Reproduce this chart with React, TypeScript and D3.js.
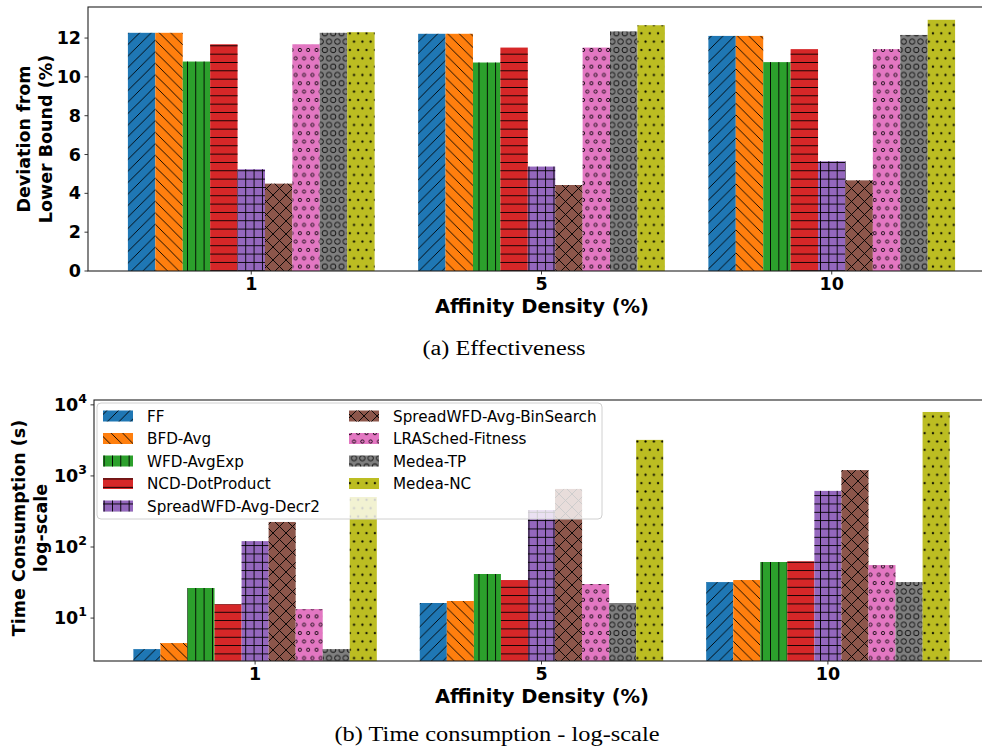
import React from 'react';
import * as d3 from 'd3';

const categories = ['1', '5', '10'];
const methods = [
  'FF',
  'BFD-Avg',
  'WFD-AvgExp',
  'NCD-DotProduct',
  'SpreadWFD-Avg-Decr2',
  'SpreadWFD-Avg-BinSearch',
  'LRASched-Fitness',
  'Medea-TP',
  'Medea-NC',
];

// Deviation from lower bound (%) per affinity density, one value per method
const deviation1 = [12.27, 12.27, 10.79, 11.68, 5.24, 4.5, 11.68, 12.27, 12.3];
const deviation5 = [12.22, 12.22, 10.74, 11.51, 5.38, 4.43, 11.51, 12.34, 12.66];
const deviation10 = [12.11, 12.11, 10.76, 11.43, 5.65, 4.67, 11.43, 12.16, 12.94];

// Time consumption (s) per affinity density, one value per method
const time1 = [3.66, 4.45, 26.5, 15.7, 121, 225, 13.4, 3.66, 505];
const time5 = [16.3, 17.4, 41.7, 34.3, 331, 656, 30.1, 16.3, 3213];
const time10 = [32.1, 34.3, 61.5, 63, 616, 1208, 55.7, 32.1, 7940];

const deviationTicks = [0, 2, 4, 6, 8, 10, 12];
const timeTicks = [10, 100, 1000, 10000];
const timeTickExp = ['1', '2', '3', '4'];

const colors = ['#1f77b4', '#ff7f0e', '#2ca02c', '#d62728', '#9467bd', '#8c564b', '#e377c2', '#7f7f7f', '#bcbd22'];
const hatches = ['slash', 'backslash', 'vert', 'horiz', 'plus', 'cross', 'o', 'O', 'dot'];

const FONT = "'DejaVu Sans', sans-serif";
const SERIF = "'Liberation Serif', 'DejaVu Serif', serif";
const S = 8.33;
const D = 11.5;
const DX = 13;
const AX = '#222';

function Patterns() {
  const st = { stroke: '#000', strokeWidth: 0.9, fill: 'none' };
  const circles = (r: number, filled: boolean) => {
    const pts = [[0, 0], [S, 0], [S / 2, S], [0, 2 * S], [S, 2 * S]];
    return pts.map((p, i) => (
      <circle key={i} cx={p[0]} cy={p[1]} r={r}
        fill={filled ? '#000' : 'none'} stroke="#000" strokeWidth={filled ? 0.3 : 0.85} />
    ));
  };
  return (
    <defs>
      <pattern id="h-slash" patternUnits="userSpaceOnUse" width={D} height={D}>
        <path d={`M0,${D} L${D},0 M-1,1 L1,-1 M${D - 1},${D + 1} L${D + 1},${D - 1}`} {...st} />
      </pattern>
      <pattern id="h-backslash" patternUnits="userSpaceOnUse" width={D} height={D}>
        <path d={`M0,0 L${D},${D} M-1,${D - 1} L1,${D + 1} M${D - 1},-1 L${D + 1},1`} {...st} />
      </pattern>
      <pattern id="h-cross" patternUnits="userSpaceOnUse" width={DX} height={DX}>
        <path d={`M0,${DX} L${DX},0 M-1,1 L1,-1 M${DX - 1},${DX + 1} L${DX + 1},${DX - 1} M0,0 L${DX},${DX} M-1,${DX - 1} L1,${DX + 1} M${DX - 1},-1 L${DX + 1},1`} {...st} />
      </pattern>
      <pattern id="h-vert" patternUnits="userSpaceOnUse" width={S} height={S}>
        <path d={`M${S / 2},0 V${S}`} {...st} />
      </pattern>
      <pattern id="h-horiz" patternUnits="userSpaceOnUse" width={S} height={S}>
        <path d={`M0,${S / 2} H${S}`} {...st} />
      </pattern>
      <pattern id="h-plus" patternUnits="userSpaceOnUse" width={S} height={S}>
        <path d={`M0,${S / 2} H${S} M${S / 2},0 V${S}`} {...st} />
      </pattern>
      <pattern id="h-o" patternUnits="userSpaceOnUse" width={S} height={2 * S}>
        {circles(1.6, false)}
      </pattern>
      <pattern id="h-O" patternUnits="userSpaceOnUse" width={S} height={2 * S}>
        {circles(2.7, false)}
      </pattern>
      <pattern id="h-dot" patternUnits="userSpaceOnUse" width={S} height={2 * S}>
        {circles(1.0, true)}
      </pattern>
    </defs>
  );
}

function HatchRect({ x, y, w, h, j }: { x: number; y: number; w: number; h: number; j: number }) {
  return (
    <g>
      <rect x={x} y={y} width={w} height={h} fill={colors[j]} />
      <rect x={x} y={y} width={w} height={h} fill={`url(#h-${hatches[j]})`} />
    </g>
  );
}

export default function App() {
  const deviation = [deviation1, deviation5, deviation10];
  const time = [time1, time5, time10];
  const bw = 0.85 / methods.length;
  const groupIdx = categories.map((_, i) => i);

  // ---- Panel (a)
  const aL = 88, aR = 995, aT = 7, aB = 271;
  const xa = d3.scaleLinear().domain([-0.5625, 2.5625]).range([aL, aR]);
  const ya = d3.scaleLinear().domain([0, 13.6]).range([aB, aT]);

  // ---- Panel (b)
  const bL = 94, bR = 989, bT = 400, bB = 661;
  const xb = d3.scaleLinear().domain([-0.5625, 2.5625]).range([bL, bR]);
  const yb = d3.scaleLog().domain([2.49, 11700]).range([bB, bT]);

  const barsA = groupIdx.flatMap((i) =>
    methods.map((m, j) => {
      const c = i + (j - 4) * bw;
      const x0 = xa(c - bw / 2);
      const x1 = xa(c + bw / 2);
      const y0 = ya(deviation[i][j]);
      return <HatchRect key={`a-${i}-${j}`} x={x0} y={y0} w={x1 - x0} h={aB - y0} j={j} />;
    })
  );
  const barsB = groupIdx.flatMap((i) =>
    methods.map((m, j) => {
      const c = i + (j - 4) * bw;
      const x0 = xb(c - bw / 2);
      const x1 = xb(c + bw / 2);
      const y0 = yb(time[i][j]);
      return <HatchRect key={`b-${i}-${j}`} x={x0} y={y0} w={x1 - x0} h={bB - y0} j={j} />;
    })
  );

  const legendRows = 5;
  const legX = 97, legY = 403, legW = 505, legH = 116;
  const rowY = (k: number) => 416 + k * 22.5;

  return (
    <svg width={982} height={755} style={{ position: 'absolute', left: 0, top: 0, background: '#fff' }}
      fontFamily={FONT}>
      <Patterns />
      <rect x={0} y={0} width={982} height={755} fill="#fff" />

      {/* Panel (a) */}
      {barsA}
      <rect x={aL} y={aT} width={aR - aL} height={aB - aT} fill="none" stroke={AX} strokeWidth={1.1} />
      {deviationTicks.map((t) => (
        <g key={`ya-${t}`}>
          <line x1={aL - 3.5} x2={aL} y1={ya(t)} y2={ya(t)} stroke={AX} strokeWidth={0.9} />
          <text x={aL - 7} y={ya(t) + 6} textAnchor="end" fontSize={17.5} fontWeight="bold">{t}</text>
        </g>
      ))}
      {categories.map((c, i) => (
        <g key={`xa-${c}`}>
          <line x1={xa(i)} x2={xa(i)} y1={aB} y2={aB + 3.5} stroke={AX} strokeWidth={0.9} />
          <text x={xa(i)} y={aB + 18.5} textAnchor="middle" fontSize={17.5} fontWeight="bold">{c}</text>
        </g>
      ))}
      <text x={(aL + 982) / 2 + 7} y={aB + 41.5} textAnchor="middle" fontSize={19.5} fontWeight="bold">Affinity Density (%)</text>
      <text transform="translate(30,139) rotate(-90)" textAnchor="middle" fontSize={17.5} fontWeight="bold">Deviation from</text>
      <text transform="translate(52,139) rotate(-90)" textAnchor="middle" fontSize={17.5} fontWeight="bold">Lower Bound (%)</text>
      <text x={504} y={355} textAnchor="middle" fontSize={20} fontFamily={SERIF} textLength={163} lengthAdjust="spacingAndGlyphs">(a)  Effectiveness</text>

      {/* Panel (b) */}
      {barsB}
      <rect x={bL} y={bT} width={bR - bL} height={bB - bT} fill="none" stroke={AX} strokeWidth={1.1} />
      {timeTicks.map((t, k) => (
        <g key={`yb-${t}`}>
          <line x1={bL - 3.5} x2={bL} y1={yb(t)} y2={yb(t)} stroke={AX} strokeWidth={0.9} />
          <text x={bL - 7} y={yb(t) + 6} textAnchor="end" fontSize={17.5} fontWeight="bold">
            10<tspan dy={-8} fontSize={12.5}>{timeTickExp[k]}</tspan>
          </text>
        </g>
      ))}
      {categories.map((c, i) => (
        <g key={`xb-${c}`}>
          <line x1={xb(i)} x2={xb(i)} y1={bB} y2={bB + 3.5} stroke={AX} strokeWidth={0.9} />
          <text x={xb(i)} y={bB + 18.5} textAnchor="middle" fontSize={17.5} fontWeight="bold">{c}</text>
        </g>
      ))}
      <text x={(bL + 982) / 2 + 4} y={bB + 41.5} textAnchor="middle" fontSize={19.5} fontWeight="bold">Affinity Density (%)</text>
      <text transform="translate(25,528) rotate(-90)" textAnchor="middle" fontSize={17.5} fontWeight="bold">Time Consumption (s)</text>
      <text transform="translate(47,528) rotate(-90)" textAnchor="middle" fontSize={17.5} fontWeight="bold">log-scale</text>

      {/* Legend */}
      <rect x={legX} y={legY} width={legW} height={legH} rx={4} fill="#fff" fillOpacity={0.8} stroke="#d0d0d0" strokeWidth={1} />
      {methods.map((m, j) => {
        const col = j < legendRows ? 0 : 1;
        const row = j < legendRows ? j : j - legendRows;
        const sx = col === 0 ? 103 : 349;
        const cy = rowY(row);
        return (
          <g key={`leg-${m}`}>
            <HatchRect x={sx} y={cy - 5.5} w={30} h={11} j={j} />
            <text x={sx + 44} y={cy + 5.5} fontSize={15.2}>{m}</text>
          </g>
        );
      })}

      <text x={497} y={741} textAnchor="middle" fontSize={20} fontFamily={SERIF} textLength={325} lengthAdjust="spacingAndGlyphs">(b)  Time consumption - log-scale</text>
    </svg>
  );
}
